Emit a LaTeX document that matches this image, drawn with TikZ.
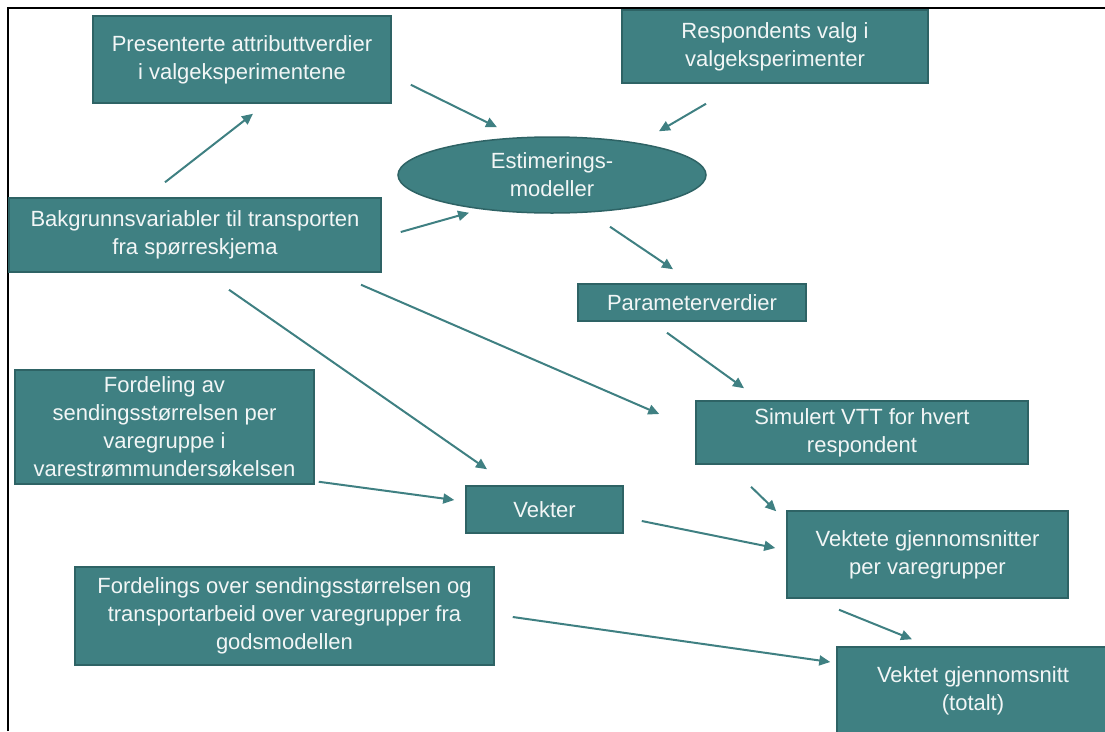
\documentclass[tikz,border=0pt]{standalone}
\usepackage{fontspec}
\setmainfont{Liberation Sans}
\usetikzlibrary{arrows.meta,shapes.geometric}

\definecolor{tealfill}{HTML}{3F8082}
\definecolor{tealline}{HTML}{2E6365}
\definecolor{boxtext}{HTML}{F2F6F6}

\tikzset{
  box/.style={draw=tealline, line width=1.5pt, fill=tealfill, text=boxtext,
    align=center, inner sep=0pt, font=\fontsize{22}{28}\selectfont},
  oval/.style={box, ellipse},
  arr/.style={draw=tealfill, line width=2pt, -{Triangle[length=11pt,width=10pt]}}
}

\begin{document}
\begin{tikzpicture}[x=1pt, y=-1pt]
  \useasboundingbox (0,0) rectangle (1105,731);
  \draw[line width=2pt] (8,731) -- (8,8) -- (1105,8);

  \node[box, minimum width=298pt, minimum height=87pt] (pres) at (242,59.5)
    {Presenterte attributtverdier\\i valgeksperimentene};
  \node[box, minimum width=306pt, minimum height=73pt] (resp) at (775,46.5)
    {Respondents valg i\\valgeksperimenter};
  \node[oval, minimum width=308pt, minimum height=76pt] (estim) at (552,175)
    {Estimerings-\\modeller};
  \node[box, minimum width=372pt, minimum height=74pt] (bakg) at (195,235)
    {Bakgrunnsvariabler til transporten\\fra spørreskjema};
  \node[box, minimum width=228pt, minimum height=37pt] (param) at (692,302.5)
    {Parameterverdier};
  \node[box, minimum width=299pt, minimum height=114pt] (ford) at (164.5,427)
    {Fordeling av\\sendingsstørrelsen per\\varegruppe i\\varestrømmundersøkelsen};
  \node[box, minimum width=332pt, minimum height=63pt] (simul) at (862,432.5)
    {Simulert VTT for hvert\\respondent};
  \node[box, minimum width=157pt, minimum height=47pt] (vekter) at (544.5,509.5)
    {Vekter};
  \node[box, minimum width=281pt, minimum height=87pt] (vektete) at (927.5,554.5)
    {Vektete gjennomsnitter\\per varegrupper};
  \node[box, minimum width=272pt, minimum height=87pt] (totalt) at (973,690.5)
    {Vektet gjennomsnitt\\(totalt)};
  \node[box, minimum width=419pt, minimum height=98pt] (fords) at (284.5,616)
    {Fordelings over sendingsstørrelsen og\\transportarbeid over varegrupper fra\\godsmodellen};

  % arrows
  \draw[arr] ([xshift=-30pt,yshift=15pt]bakg.north) -- ([xshift=11pt,yshift=-10pt]pres.south);
  \draw[arr] ([xshift=19pt,yshift=19pt]pres.south east) -- ([xshift=-55pt,yshift=9pt]estim.north);
  \draw[arr] ([xshift=-69pt,yshift=-20pt]resp.south) -- ([xshift=107pt,yshift=5pt]estim.north);
  \draw[arr] ([xshift=19pt,yshift=3pt]bakg.east) -- ([xshift=-83pt,yshift=1pt]estim.south);
  \draw[arr] ([xshift=58pt,yshift=-13pt]estim.south) -- ([xshift=-19pt,yshift=14pt]param.north);
  \draw[arr] ([xshift=-25pt,yshift=-11pt]param.south) -- ([xshift=-118pt,yshift=12pt]simul.north);
  \draw[arr] ([xshift=166pt,yshift=-12pt]bakg.south) -- ([xshift=-36pt,yshift=18.5pt]simul.west);
  \draw[arr] ([xshift=34pt,yshift=-17pt]bakg.south) -- ([xshift=-57.5pt,yshift=16pt]vekter.north);
  \draw[arr] ([xshift=4pt,yshift=3pt]ford.south east) -- ([xshift=-11pt,yshift=9.5pt]vekter.west);
  \draw[arr] ([xshift=18pt,yshift=-11.5pt]vekter.east) -- ([xshift=-11pt,yshift=6.5pt]vektete.west);
  \draw[arr] ([xshift=-111pt,yshift=-22pt]simul.south) -- ([xshift=-10pt,yshift=-1pt]vektete.north west);
  \draw[arr] ([xshift=-88.5pt,yshift=-11pt]vektete.south) -- ([xshift=-61pt,yshift=7pt]totalt.north);
  \draw[arr] ([xshift=18pt,yshift=-1pt]fords.east) -- ([xshift=-6pt,yshift=28.5pt]totalt.west);
\end{tikzpicture}
\end{document}
